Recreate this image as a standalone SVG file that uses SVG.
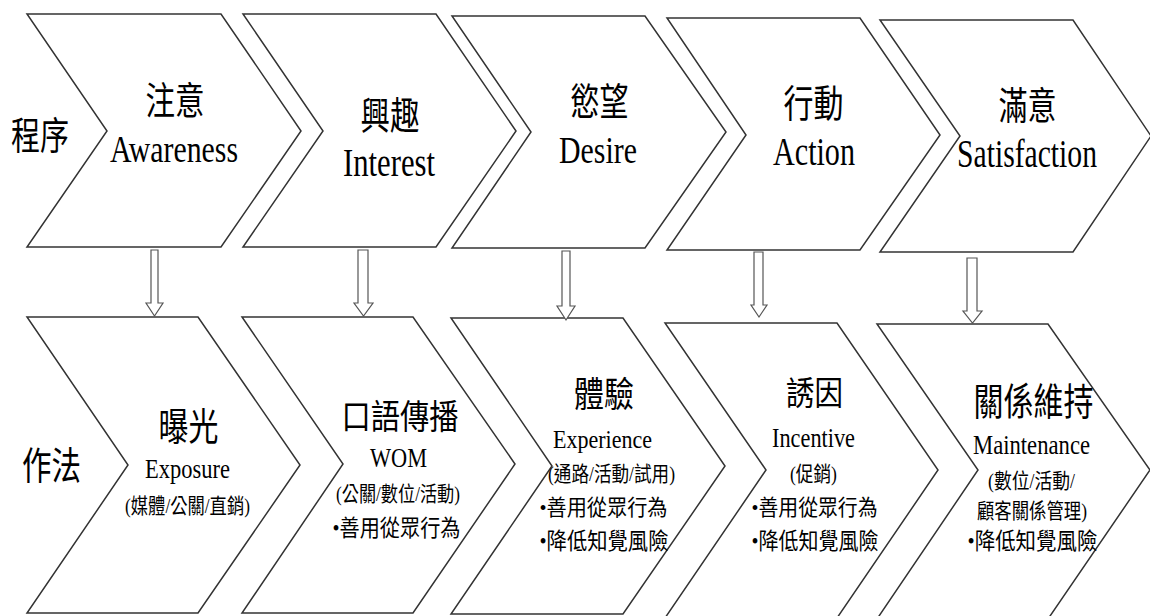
<svg xmlns="http://www.w3.org/2000/svg" width="1150" height="616" viewBox="0 0 1150 616">
<style>
.chev{fill:#fff;stroke:#333;stroke-width:1.5;stroke-linejoin:miter}
.arr{fill:#fff;stroke:#555;stroke-width:1.2}
text{font-family:"Liberation Serif","Noto Sans CJK TC",serif;fill:#000;text-anchor:middle}
</style>
<rect width="1150" height="616" fill="#fff"/>
<g id="label-process"><text x="40" y="149" font-size="38" textLength="58" lengthAdjust="spacingAndGlyphs">程序</text></g>
<g id="label-method"><text x="51.5" y="479" font-size="38" textLength="59" lengthAdjust="spacingAndGlyphs">作法</text></g>

<g id="awareness">
<path class="chev" d="M27,14 L221,14 L301,131 L221,247 L27,247 L107,131 Z"/>
<text x="175" y="114" font-size="38" textLength="59" lengthAdjust="spacingAndGlyphs">注意</text>
<text x="174" y="162" font-size="37" textLength="128" lengthAdjust="spacingAndGlyphs">Awareness</text>
</g>
<g id="interest">
<path class="chev" d="M243,14 L436,14 L516,131 L436,247 L243,247 L323,131 Z"/>
<text x="390" y="129" font-size="38" textLength="59" lengthAdjust="spacingAndGlyphs">興趣</text>
<text x="389" y="176" font-size="39" textLength="92" lengthAdjust="spacingAndGlyphs">Interest</text>
</g>
<g id="desire">
<path class="chev" d="M452,16 L645,16 L726,132 L645,248 L452,248 L531,132 Z"/>
<text x="599.5" y="115" font-size="38" textLength="58" lengthAdjust="spacingAndGlyphs">慾望</text>
<text x="598" y="163" font-size="38" textLength="78" lengthAdjust="spacingAndGlyphs">Desire</text>
</g>
<g id="action">
<path class="chev" d="M667,18 L860,18 L940,135 L860,250 L667,250 L746,135 Z"/>
<text x="813.5" y="117" font-size="38" textLength="60" lengthAdjust="spacingAndGlyphs">行動</text>
<text x="814" y="165" font-size="40" textLength="82" lengthAdjust="spacingAndGlyphs">Action</text>
</g>
<g id="satisfaction">
<path class="chev" d="M880,20 L1073,20 L1151,136 L1073,252 L880,252 L960,136 Z"/>
<text x="1027.5" y="119" font-size="38" textLength="58" lengthAdjust="spacingAndGlyphs">滿意</text>
<text x="1027" y="167" font-size="40" textLength="140" lengthAdjust="spacingAndGlyphs">Satisfaction</text>
</g>

<g id="exposure">
<path class="chev" d="M27,317 L198,317 L300,465 L198,613 L27,613 L128,465 Z"/>
<text x="188.5" y="440" font-size="38" textLength="60" lengthAdjust="spacingAndGlyphs">曝光</text>
<text x="187.5" y="478" font-size="27" textLength="85" lengthAdjust="spacingAndGlyphs">Exposure</text>
<text x="187.5" y="513" font-size="21" textLength="125" lengthAdjust="spacingAndGlyphs">(媒體/公關/直銷)</text>
</g>
<g id="wom">
<path class="chev" d="M242,317 L413,317 L515,464 L413,613 L242,613 L343,464 Z"/>
<text x="400" y="429" font-size="34" textLength="117" lengthAdjust="spacingAndGlyphs">口語傳播</text>
<text x="398.5" y="467" font-size="28" textLength="57" lengthAdjust="spacingAndGlyphs">WOM</text>
<text x="398" y="501" font-size="21" textLength="124" lengthAdjust="spacingAndGlyphs">(公關/數位/活動)</text>
<text x="396.5" y="536" font-size="23" textLength="128" lengthAdjust="spacingAndGlyphs">•善用從眾行為</text>
</g>
<g id="experience">
<path class="chev" d="M451,318 L623,318 L725,466 L623,614 L451,614 L552,466 Z"/>
<text x="604" y="407" font-size="35" textLength="60" lengthAdjust="spacingAndGlyphs">體驗</text>
<text x="602.5" y="448" font-size="26" textLength="99" lengthAdjust="spacingAndGlyphs">Experience</text>
<text x="611.5" y="481" font-size="21" textLength="127" lengthAdjust="spacingAndGlyphs">(通路/活動/試用)</text>
<text x="603.5" y="515" font-size="22" textLength="128" lengthAdjust="spacingAndGlyphs">•善用從眾行為</text>
<text x="604" y="549" font-size="23" textLength="129" lengthAdjust="spacingAndGlyphs">•降低知覺風險</text>
</g>
<g id="incentive">
<path class="chev" d="M665,323 L837,323 L938,470 L837,618 L665,618 L766,470 Z"/>
<text x="814.5" y="405" font-size="33" textLength="57" lengthAdjust="spacingAndGlyphs">誘因</text>
<text x="813.5" y="447" font-size="28" textLength="83" lengthAdjust="spacingAndGlyphs">Incentive</text>
<text x="813.5" y="481" font-size="21" textLength="47" lengthAdjust="spacingAndGlyphs">(促銷)</text>
<text x="814.5" y="515" font-size="22" textLength="126" lengthAdjust="spacingAndGlyphs">•善用從眾行為</text>
<text x="815" y="549" font-size="23" textLength="127" lengthAdjust="spacingAndGlyphs">•降低知覺風險</text>
</g>
<g id="maintenance">
<path class="chev" d="M877,324 L1048,324 L1150,470 L1048,619 L877,619 L978,470 Z"/>
<text x="1033.5" y="415" font-size="38" textLength="120" lengthAdjust="spacingAndGlyphs">關係維持</text>
<text x="1031.5" y="454" font-size="27" textLength="117" lengthAdjust="spacingAndGlyphs">Maintenance</text>
<text x="1031.5" y="488" font-size="21" textLength="87" lengthAdjust="spacingAndGlyphs">(數位/活動/</text>
<text x="1032" y="518" font-size="21" textLength="110" lengthAdjust="spacingAndGlyphs">顧客關係管理)</text>
<text x="1032.5" y="549" font-size="23" textLength="130" lengthAdjust="spacingAndGlyphs">•降低知覺風險</text>
</g>

<g id="connectors">
<polygon class="arr" points="151,250 158,250 158,303 163,303 154.5,316 146,303 151,303"/>
<polygon class="arr" points="358,250 368,250 368,303 373,303 363.5,316 354,303 358,303"/>
<polygon class="arr" points="562,251 570,251 570,306 575,306 566,320 557,306 562,306"/>
<polygon class="arr" points="754,252 763,252 763,305 767,305 759,317 751,305 754,305"/>
<polygon class="arr" points="967,258 977,258 977,311 982,311 972.5,323 963,311 967,311"/>
</g>
</svg>
